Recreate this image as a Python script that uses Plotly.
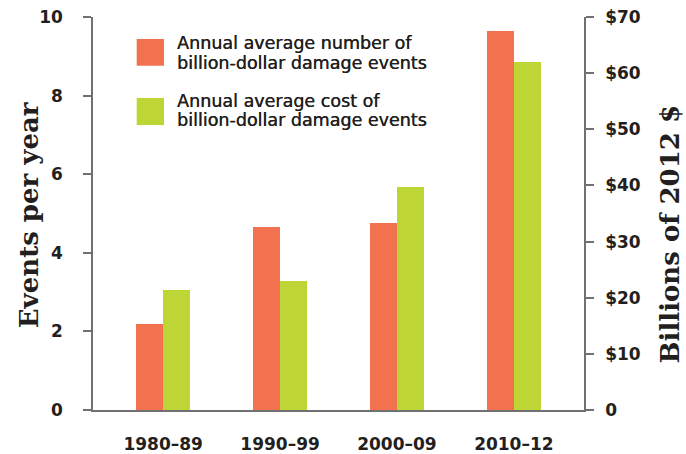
import plotly.graph_objects as go

decades = ["1980–89", "1990–99", "2000–09", "2010–12"]
events_per_year = [2.2, 4.65, 4.75, 9.65]
cost_billions = [21.4, 23.0, 39.7, 62.0]

left_ticks = [0, 2, 4, 6, 8, 10]
right_ticks = [0, 10, 20, 30, 40, 50, 60, 70]
right_ticktext = ["0"] + [f"${v}" for v in right_ticks[1:]]

legend_labels = [
    ["Annual average number of", "billion-dollar damage events"],
    ["Annual average cost of", "billion-dollar damage events"],
]

ORANGE = "#F2714F"
GREEN = "#BDD535"
AXIS = "#707070"
TEXT = "#231F20"
SANS = "DejaVu Sans"
SERIF = "DejaVu Serif"

x = list(range(len(decades)))

fig = go.Figure()
fig.add_trace(go.Bar(x=x, y=events_per_year, marker_color=ORANGE,
                     marker_line_width=0, width=0.232, offset=-0.232,
                     yaxis="y", showlegend=False))
fig.add_trace(go.Bar(x=x, y=cost_billions, marker_color=GREEN,
                     marker_line_width=0, width=0.232, offset=0,
                     yaxis="y2", showlegend=False))

tickfont = dict(family=SANS, size=17, color=TEXT, weight="bold")

fig.update_layout(
    width=686, height=454,
    margin=dict(l=93, r=102, t=17, b=44, autoexpand=False),
    paper_bgcolor="white", plot_bgcolor="white",
    xaxis=dict(range=[-0.6, 3.6], tickvals=x, ticktext=decades,
               showline=True, linecolor=AXIS, linewidth=1.5,
               ticks="", showgrid=False, zeroline=False, automargin=False,
               ticklabelstandoff=18, tickfont=tickfont),
    yaxis=dict(range=[0, 10], tickvals=left_ticks,
               showline=True, linecolor=AXIS, linewidth=1.5,
               ticks="outside", ticklen=8, tickcolor=AXIS, tickwidth=1.5,
               showgrid=False, zeroline=False, automargin=False,
               ticklabelstandoff=17, tickfont=tickfont),
    yaxis2=dict(range=[0, 70], tickvals=right_ticks, ticktext=right_ticktext,
                overlaying="y", side="right",
                showline=True, linecolor=AXIS, linewidth=1.5,
                ticks="outside", ticklen=8, tickcolor=AXIS, tickwidth=1.5,
                showgrid=False, zeroline=False, automargin=False,
                ticklabelstandoff=8, tickfont=tickfont),
    bargap=0, bargroupgap=0,
)

# axis titles
fig.add_annotation(text="<b>Events per year</b>", xref="paper", yref="paper",
                   x=-0.130, y=0.496, textangle=-90, showarrow=False,
                   xanchor="center", yanchor="middle",
                   font=dict(family=SERIF, size=26, color=TEXT))
fig.add_annotation(text="<b>Billions of 2012 $</b>", xref="paper", yref="paper",
                   x=1.175, y=0.449, textangle=-90, showarrow=False,
                   xanchor="center", yanchor="middle",
                   font=dict(family=SERIF, size=26, color=TEXT))

# manual legend
swatches = [(ORANGE, 0.944, 0.876), (GREEN, 0.794, 0.725)]
text_y = [(0.933, 0.884), (0.785, 0.738)]
for (col, y1, y0), labels, (ty1, ty2) in zip(swatches, legend_labels, text_y):
    fig.add_shape(type="rect", xref="paper", yref="paper",
                  x0=0.089, x1=0.1446, y0=y0, y1=y1,
                  fillcolor=col, line_width=0)
    for t, ty in zip(labels, (ty1, ty2)):
        fig.add_annotation(text=t, xref="paper", yref="paper", x=0.167, y=ty,
                           xanchor="left", yanchor="middle", showarrow=False,
                           font=dict(family=SANS, size=17.5, color=TEXT,
                                     shadow="0.35px 0 0 #231F20"))

fig.write_html("out.html")
